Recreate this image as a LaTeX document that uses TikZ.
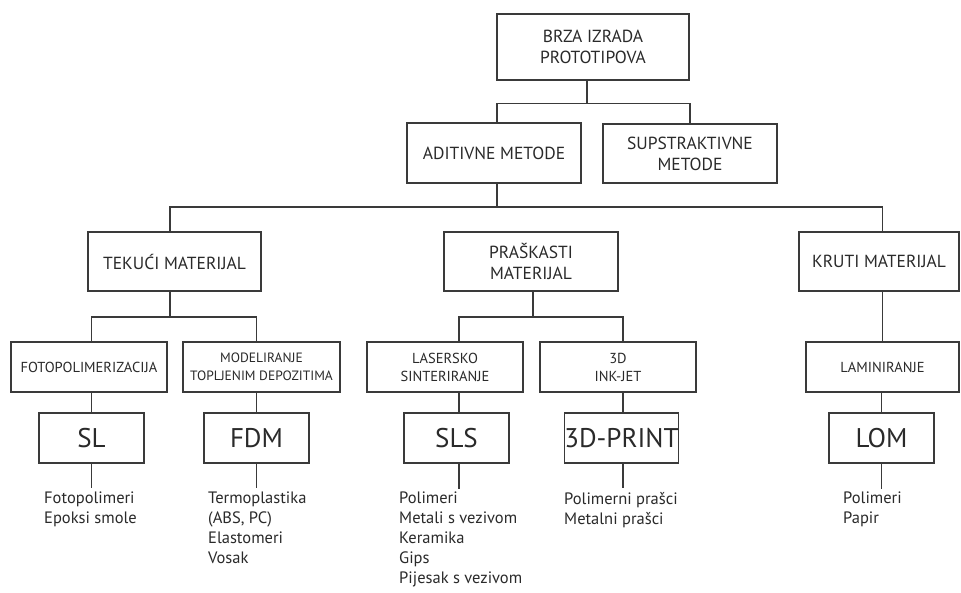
\documentclass[tikz,border=0pt]{standalone}
\usepackage{fontspec}
\setmainfont{PT Sans}
\begin{document}
\begin{tikzpicture}[x=1pt,y=-1pt,
  every node/.style={text=ink},
  box/.style={draw=ln, line width=1.5pt, inner sep=0pt, align=center},
  bigbox/.style={box, font=\fontsize{17.5}{21}\selectfont},
  midbox/.style={box, font=\fontsize{14.5}{18}\selectfont},
  smallbox/.style={box, font=\fontsize{13.5}{18}\selectfont},
  codebox/.style={box, font=\fontsize{27}{30}\selectfont, minimum width=105pt, minimum height=50pt},
  lst/.style={anchor=north west, align=left, inner sep=0pt, font=\fontsize{16.5}{20}\selectfont},
  conn/.style={draw=ln, line width=1.5pt}
]
\definecolor{ink}{HTML}{2A2A2A}
\definecolor{ln}{HTML}{3A3A3A}
\useasboundingbox[fill=white] (0,0) rectangle (961,592);

% level 0-1
\node[bigbox, minimum width=192pt, minimum height=66pt] (top) at (593,47) {BRZA IZRADA\\PROTOTIPOVA};
\node[bigbox, minimum width=174pt, minimum height=60pt] (ad) at (494,153) {ADITIVNE METODE};
\node[bigbox, minimum width=174pt, minimum height=59pt] (sub) at (690,153.5) {SUPSTRAKTIVNE\\METODE};

% level 2
\node[bigbox, minimum width=173pt, minimum height=59pt] (tek) at (174.5,261.5) {TEKUĆI MATERIJAL};
\node[bigbox, minimum width=174pt, minimum height=59pt] (pra) at (531,261.5) {PRAŠKASTI\\MATERIJAL};
\node[bigbox, minimum width=160pt, minimum height=59pt] (kru) at (879,261.5) {KRUTI MATERIJAL};

% level 3
\node[midbox, minimum width=156pt, minimum height=50pt] (fot) at (89,367) {FOTOPOLIMERIZACIJA};
\node[smallbox, minimum width=157pt, minimum height=50pt] (mod) at (261.5,367) {MODELIRANJE\\TOPLJENIM DEPOZITIMA};
\node[midbox, minimum width=156pt, minimum height=50pt] (las) at (445,367) {LASERSKO\\SINTERIRANJE};
\node[midbox, minimum width=156pt, minimum height=50pt] (ink) at (618,367) {3D\\INK-JET};
\node[midbox, minimum width=153pt, minimum height=50pt] (lam) at (882.5,367) {LAMINIRANJE};

% level 4
\node[codebox] (sl) at (91.5,438) {SL};
\node[codebox] (fdm) at (256.5,438) {FDM};
\node[codebox] (sls) at (456.5,438) {SLS};
\node[codebox] (pri) at (621.5,438) {3D-PRINT};
\node[codebox] (lom) at (881.5,438) {LOM};

% material lists
\node[lst] (lsl) at (44,492) {Fotopolimeri\\Epoksi smole};
\node[lst] (lfdm) at (208,492) {Termoplastika\\(ABS, PC)\\Elastomeri\\Vosak};
\node[lst] (lsls) at (399,492) {Polimeri\\Metali s vezivom\\Keramika\\Gips\\Pijesak s vezivom};
\node[lst] (lpri) at (564,492) {Polimerni prašci\\Metalni prašci};
\node[lst] (llom) at (843,492) {Polimeri\\Papir};

% junction coordinates
\coordinate (j0) at (587,103.5);
\coordinate (j1) at (497,207);
\coordinate (j2) at (170,317);
\coordinate (j3) at (533,317);

% connectors
\draw[conn] (top.south -| j0) -- (j0);
\draw[conn] (ad.north -| j1) |- (j0) -| (sub.north);
\draw[conn] (ad.south -| j1) -- (j1);
\draw[conn] (tek.north -| j2) |- (j1) -| (kru.north -| lam.north);
\draw[conn] (pra.north -| j3) -- (pra.north -| j3 |- j1);
\draw[conn] (tek.south -| j2) -- (j2);
\draw[conn] (fot.north -| sl.north) |- (j2) -| (mod.north -| fdm.north);
\draw[conn] (pra.south -| j3) -- (j3);
\draw[conn] (las.north -| 459,0) |- (j3) -| (ink.north -| 623,0);
\draw[conn] (kru.south -| lam.north) -- (lam.north);
\draw[conn] (fot.south -| sl.north) -- (sl.north);
\draw[conn] (mod.south -| fdm.north) -- (fdm.north);
\draw[conn] (las.south -| 459,0) -- (sls.north -| 459,0);
\draw[conn] (ink.south -| 623,0) -- (pri.north -| 623,0);
\draw[conn] (lam.south -| lom.north) -- (lom.north);
\draw[conn] (sl.south) -- ++(0,24) coordinate (e1);
\draw[conn] (fdm.south) -- ++(0,24) coordinate (e2);
\draw[conn] (sls.south -| 459,0) -- ++(0,25) coordinate (e3);
\draw[conn] (pri.south -| 623,0) -- ++(0,24) coordinate (e4);
\draw[conn] (lom.south) -- ++(0,25) coordinate (e5);
\end{tikzpicture}
\end{document}
